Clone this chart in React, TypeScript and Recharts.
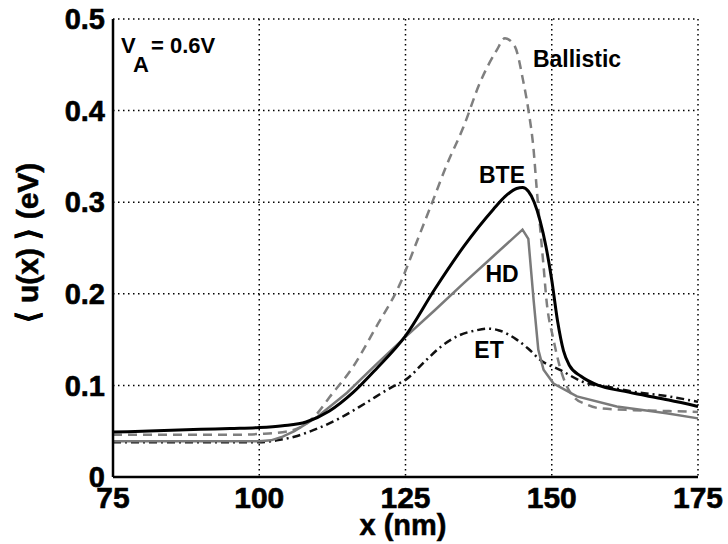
import React from "react";
import { LineChart, Line, XAxis, YAxis, CartesianGrid } from "recharts";

const xTicks = [75, 100, 125, 150, 175];
const yTicks = [0, 0.1, 0.2, 0.3, 0.4, 0.5];

const bteX = [75, 80, 85, 90, 95, 100, 104, 108, 112, 116, 120, 125, 130, 135, 140, 142, 144, 145, 146, 147, 148, 149, 150, 151, 152, 153, 155, 158, 162, 166, 170, 175];
const bteY = [0.049, 0.05, 0.051, 0.052, 0.053, 0.054, 0.056, 0.06, 0.072, 0.092, 0.118, 0.154, 0.205, 0.252, 0.292, 0.306, 0.315, 0.316, 0.312, 0.3, 0.28, 0.252, 0.215, 0.17, 0.138, 0.122, 0.11, 0.1, 0.094, 0.089, 0.084, 0.077];

const hdX = [75, 80, 85, 90, 95, 100, 102, 104, 106, 108, 110, 115, 120, 125, 130, 135, 140, 145, 146, 146.9, 147.7, 148.6, 150.3, 154.3, 161.1, 169.6, 175];
const hdY = [0.039, 0.039, 0.039, 0.039, 0.039, 0.039, 0.04, 0.044, 0.05, 0.058, 0.066, 0.092, 0.123, 0.153, 0.182, 0.212, 0.241, 0.27, 0.26, 0.193, 0.139, 0.117, 0.102, 0.088, 0.077, 0.0695, 0.064];

const balX = [75, 80, 85, 90, 95, 100, 105, 108, 110, 112, 116, 120, 124, 127, 129.7, 132, 134.9, 137.7, 140.6, 142, 143.7, 145.1, 146, 146.9, 147.4, 148.6, 149.1, 150.3, 151.4, 152.5, 153.7, 156, 158.2, 164, 170, 175];
const balY = [0.046, 0.046, 0.046, 0.046, 0.046, 0.047, 0.05, 0.058, 0.07, 0.087, 0.12, 0.164, 0.21, 0.258, 0.302, 0.34, 0.382, 0.43, 0.466, 0.479, 0.47, 0.433, 0.401, 0.357, 0.317, 0.23, 0.193, 0.15, 0.12, 0.1, 0.088, 0.079, 0.075, 0.073, 0.072, 0.071];

const etX = [75, 80, 85, 90, 95, 100, 103, 106, 110, 114, 118, 122.9, 125, 128.6, 131, 134.3, 137, 139.1, 141, 144, 146, 148, 151.4, 155.3, 160, 164, 170, 175];
const etY = [0.038, 0.038, 0.038, 0.038, 0.038, 0.038, 0.04, 0.044, 0.053, 0.065, 0.08, 0.099, 0.106, 0.128, 0.142, 0.155, 0.16, 0.162, 0.16, 0.15, 0.14, 0.128, 0.117, 0.104, 0.098, 0.093, 0.088, 0.082];

const toData = (xs: number[], ys: number[]) => xs.map((x, i) => ({ x, y: ys[i] }));

const bteData = toData(bteX, bteY);
const hdData = toData(hdX, hdY);
const balData = toData(balX, balY);
const etData = toData(etX, etY);

const FONT = "'Liberation Sans', Arial, Helvetica, sans-serif";

export default function App() {
  return (
    <div style={{ position: "absolute", left: 0, top: 0, width: 728, height: 544, background: "#fff" }}>
      <LineChart width={728} height={544} margin={{ top: 19, right: 30, bottom: 0, left: 0 }}>
        <CartesianGrid stroke="#000" strokeDasharray="1.5 3.5" strokeWidth={1.5} horizontalValues={yTicks} verticalValues={xTicks} />
        <XAxis
          type="number"
          dataKey="x"
          domain={[75, 175]}
          ticks={xTicks}
          height={67}
          allowDuplicatedCategory={false}
          axisLine={{ stroke: "#000", strokeWidth: 2.5 }}
          tickLine={false}
          tickSize={0}
          tickMargin={10}
          tick={{ fill: "#000", stroke: "#000", strokeWidth: 0.6, fontSize: 30, fontWeight: 700, fontFamily: FONT }}
        />
        <YAxis
          type="number"
          domain={[0, 0.5]}
          ticks={yTicks}
          width={113}
          axisLine={{ stroke: "#000", strokeWidth: 2.5 }}
          tickLine={false}
          tickSize={0}
          tickMargin={8}
          tickFormatter={(v: number) => (v === 0 ? "0" : v.toFixed(1))}
          tick={{ fill: "#000", stroke: "#000", strokeWidth: 0.6, fontSize: 29, fontWeight: 700, fontFamily: FONT }}
        />
        <Line data={balData} dataKey="y" type="monotone" stroke="#7f7f7f" strokeWidth={2.5} strokeDasharray="9 6" dot={false} isAnimationActive={false} />
        <Line data={etData} dataKey="y" type="monotone" stroke="#111" strokeWidth={2.5} strokeDasharray="8 4 2 4" dot={false} isAnimationActive={false} />
        <Line data={hdData} dataKey="y" type="linear" stroke="#7a7a7a" strokeWidth={2.5} dot={false} isAnimationActive={false} />
        <Line data={bteData} dataKey="y" type="monotone" stroke="#000" strokeWidth={3} dot={false} isAnimationActive={false} />
      </LineChart>
      <svg width={728} height={544} style={{ position: "absolute", left: 0, top: 0, pointerEvents: "none" }}>
        <g fontFamily={FONT} fontWeight={700} fill="#000">
          <text x={403} y={535} fontSize={29} textAnchor="middle" stroke="#000" strokeWidth={0.5}>x (nm)</text>
          <text transform="translate(38,243) rotate(-90)" fontSize={30} textAnchor="middle" stroke="#000" strokeWidth={0.5}>⟨ u(x) ⟩ (eV)</text>
          <text x={121} y={53} fontSize={22}>V</text>
          <text x={133} y={72} fontSize={22}>A</text>
          <text x={151} y={53} fontSize={22}>= 0.6V</text>
          <text x={577} y={67} fontSize={23} textAnchor="middle">Ballistic</text>
          <text x={502} y={183} fontSize={23} textAnchor="middle">BTE</text>
          <text x={502} y={282} fontSize={23} textAnchor="middle">HD</text>
          <text x={489} y={358} fontSize={23} textAnchor="middle">ET</text>
        </g>
      </svg>
    </div>
  );
}
